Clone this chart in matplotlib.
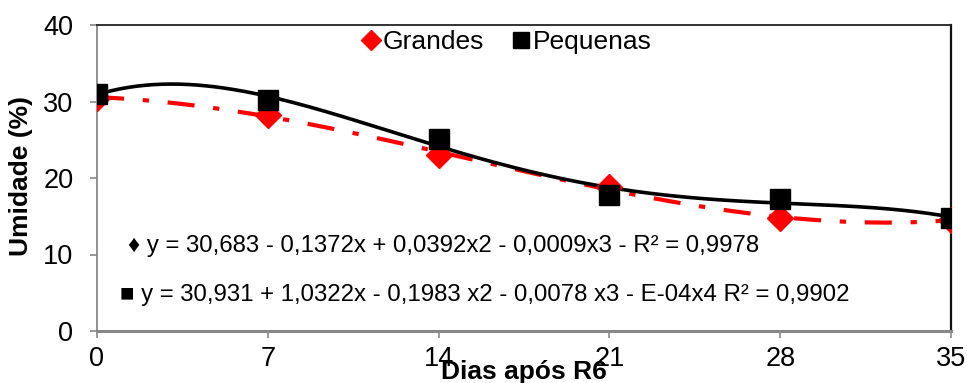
import numpy as np
import matplotlib
matplotlib.use("Agg")
import matplotlib.pyplot as plt
from matplotlib.lines import Line2D

plt.rcParams['font.family'] = ['Liberation Sans', 'DejaVu Sans']

dias = [0, 7, 14, 21, 28, 35]
grandes = [30.5, 28.3, 23.0, 18.8, 14.8, 14.5]
pequenas = [31.0, 30.2, 25.1, 17.8, 17.2, 14.8]
xticks = [0, 7, 14, 21, 28, 35]
yticks = [0, 10, 20, 30, 40]
eq_grandes = "\u2666 y = 30,683 - 0,1372x + 0,0392x2 - 0,0009x3 - R\u00b2 = 0,9978"
eq_pequenas = "\u25a0 y = 30,931 + 1,0322x - 0,1983 x2 - 0,0078 x3 - E-04x4 R\u00b2 = 0,9902"

fig = plt.figure(figsize=(9.67, 3.83), dpi=100)
ax = fig.add_axes([97/967, 52/383, (951-97)/967, (331-25)/383])

xs = np.linspace(0, 35, 300)
pg = np.polyfit(dias, grandes, 3)
pp = np.polyfit(dias, pequenas, 4)

ax.plot(xs, np.polyval(pg, xs), color='#ff0000', lw=3.0, linestyle=(0, (6.5, 4.5, 1.5, 4.5)), zorder=2)
ax.plot(xs, np.polyval(pp, xs), color='black', lw=2.6, zorder=3)
ax.plot(dias, grandes, linestyle='none', marker='D', color='#ff0000', markersize=13.5, zorder=4)
ax.plot(dias, pequenas, linestyle='none', marker='s', color='black', markersize=15, zorder=5)

ax.set_xlim(0, 35)
ax.set_ylim(0, 40)
ax.set_xticks(xticks)
ax.set_yticks(yticks)
ax.tick_params(axis='both', direction='out', length=5, width=1.2, color='#888888',
               labelsize=19.5)
ax.tick_params(axis='y', pad=12)
ax.tick_params(axis='x', pad=6)

ax.spines['left'].set_color('#888888')
ax.spines['left'].set_linewidth(1.3)
ax.spines['bottom'].set_color('#888888')
ax.spines['bottom'].set_linewidth(2.2)
ax.spines['top'].set_color('#222222')
ax.spines['top'].set_linewidth(1.3)
ax.spines['right'].set_color('#111111')
ax.spines['right'].set_linewidth(1.6)

ax.set_ylabel('Umidade (%)', fontsize=19, fontweight='bold')
ax.yaxis.set_label_coords(-(97 - 33) / (951 - 97), (331 - 176) / (331 - 25))
fig.text(524/967, 1 - 372/383, 'Dias após R6', fontsize=19, fontweight='bold',
         ha='center', va='center')

handles = [Line2D([], [], linestyle='none', marker='D', color='#ff0000', markersize=10),
           Line2D([], [], linestyle='none', marker='s', color='black', markersize=11)]
ax.legend(handles, ['Grandes', 'Pequenas'], loc='center',
          bbox_to_anchor=((506 - 97) / 854, (331 - 42) / 306),
          ncol=2, frameon=False, fontsize=19, handletextpad=0.05, columnspacing=1.0,
          handlelength=0.8, borderpad=0)

ax.text((128 - 97) / 854, (331 - 246) / 306, eq_grandes, transform=ax.transAxes, fontsize=17.3,
        va='center', ha='left')
ax.text((120 - 97) / 854, (331 - 295) / 306, eq_pequenas, transform=ax.transAxes, fontsize=17.3,
        va='center', ha='left')

fig.savefig('out.png', dpi=100)
